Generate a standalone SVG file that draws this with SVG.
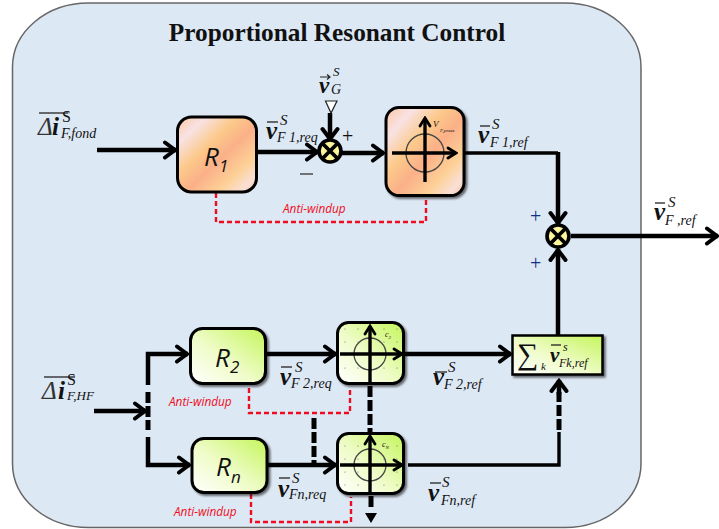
<svg xmlns="http://www.w3.org/2000/svg" width="719" height="529" viewBox="0 0 719 529">
<style>
.c{fill:none;stroke:#000;stroke-width:4.500}
.t{fill:none;stroke:#000;stroke-width:3.400}
.d{fill:none;stroke:#000;stroke-width:5;stroke-dasharray:11 3}
.r{fill:none;stroke:#f00c20;stroke-width:2.400;stroke-dasharray:5 3}
.box{stroke:#000;stroke-width:3}
.o{fill:url(#og)}
.g{fill:url(#gg)}
.ring{fill:none;stroke:#444;stroke-width:1.300}
text{font-family:"Liberation Serif",serif;fill:#111}
.v{font-size:25px;font-weight:bold;font-style:italic}
.i{font-size:25px;font-style:italic;fill:#333}
.sp{font-size:15px;font-style:italic}
.su{font-size:16px}
.sb{font-size:14px;font-style:italic}
.a{font-family:"Open Sans",sans-serif;font-size:11.800px;font-style:italic;fill:#f00c20}
.n{font-family:"Open Sans",sans-serif;font-size:26px;font-style:italic}
.ns{font-family:"Open Sans",sans-serif;font-size:17px;font-style:italic}
.bar{stroke:#222;stroke-width:1.300}
.p{font-size:20px;fill:#111}
.b{font-size:20px;fill:#103080}
</style>
<defs>
<linearGradient id="og" x1="0" y1="0" x2="1" y2="1">
<stop offset="0" stop-color="#fdc8a0"/><stop offset=".18" stop-color="#f8e2e4"/><stop offset=".38" stop-color="#fcc98a"/><stop offset=".55" stop-color="#fbb088"/><stop offset=".75" stop-color="#fdd096"/><stop offset=".9" stop-color="#f9e0d8"/><stop offset="1" stop-color="#fbb488"/>
</linearGradient>
<linearGradient id="gg" x1="0" y1="1" x2="1" y2="0">
<stop offset="0" stop-color="#fff"/><stop offset=".45" stop-color="#effcc8"/><stop offset="1" stop-color="#c4f55a"/>
</linearGradient>
<filter id="sh" x="-10%" y="-10%" width="125%" height="125%"><feDropShadow dx="2" dy="2" stdDeviation="1.200" flood-color="#000" flood-opacity=".55"/></filter>
<pattern id="dots" width="13" height="13" patternUnits="userSpaceOnUse" x="344" y="328"><circle cx="1" cy="1" r=".6" fill="#667"/></pattern>
<marker id="ar" viewBox="0 0 16 20" refX="14" refY="10" markerWidth="16" markerHeight="20" markerUnits="userSpaceOnUse" orient="auto"><path d="M3,2.500 L13,10 L3,17.500" fill="none" stroke="#000" stroke-width="4" stroke-linecap="round"/></marker>
<marker id="ats" viewBox="0 0 12 14" refX="10" refY="7" markerWidth="12" markerHeight="14" markerUnits="userSpaceOnUse" orient="auto"><path d="M2,2 L10,7 L2,12" fill="none" stroke="#000" stroke-width="2.800" stroke-linecap="round"/></marker>
<g id="sum"><circle r="11" fill="#fbf69a" stroke="#000" stroke-width="3.600"/><path d="M-8,-8 L8,8 M-8,8 L8,-8" stroke="#000" stroke-width="3.800"/></g>
</defs>

<rect id="panel" x="12.500" y="3" width="628.500" height="524.500" rx="76" ry="64" fill="#dde8f5" stroke="#666" stroke-width="1.500"/>
<text id="title" x="337" y="41" text-anchor="middle" font-size="25.300" font-weight="bold">Proportional Resonant Control</text>

<g id="connectors">
<path class="c" d="M97,150 H176" marker-end="url(#ar)"/>
<path class="c" d="M257,152 H318" marker-end="url(#ar)"/>
<path class="c" d="M330,113 V140" marker-end="url(#ar)"/>
<path class="c" d="M342,153 H384" marker-end="url(#ar)"/>
<path class="t" d="M465,153 H558"/>
<path class="c" d="M558,152 V224" marker-end="url(#ar)"/>
<path class="c" d="M571,236 H718" marker-end="url(#ar)"/>
<path class="c" d="M558,335 V249" marker-end="url(#ar)"/>
<path class="c" d="M94,411 H146" marker-end="url(#ar)"/>
<path class="c" d="M148,385 V354 H188" marker-end="url(#ar)"/>
<path class="c" d="M148,437 V465 H190" marker-end="url(#ar)"/>
<path class="d" d="M148,392 V430"/>
<path class="c" d="M266,354 H336" marker-end="url(#ar)"/>
<path class="c" d="M267,465 H336" marker-end="url(#ar)"/>
<path class="c" d="M405,354 H511" marker-end="url(#ar)"/>
<path class="t" d="M408,465 H559 V432"/>
<path class="d" d="M559,430 V392"/>
<path class="c" d="M559,395 V380" marker-end="url(#ar)"/>
<path class="d" d="M370,386 V432"/>
<path class="d" d="M314,418 V464"/>
<path class="d" d="M371,496 V510"/>
<polygon points="365,513 377,513 371,523" fill="#000"/>
<polygon points="325.500,101 337,101 331,113" fill="#fff" stroke="#222" stroke-width="1.200"/>
<path class="r" d="M216,193 V222 H426 V195"/>
<path class="r" d="M249,388 V413 H350 V387"/>
<path class="r" d="M251,494 V522 H351 V497"/>
</g>

<g id="sum1"><use href="#sum" x="330" y="151"/></g>
<g id="sum2"><use href="#sum" x="558" y="236"/></g>

<g id="r1"><rect class="box o" x="177.500" y="117" width="79" height="75" rx="14"/><text class="n" x="204" y="166">R</text><text class="ns" x="219" y="172">1</text></g>
<g id="lim1"><rect class="box o" x="386" y="107.500" width="78" height="88" rx="13" filter="url(#sh)"/>
<circle class="ring" cx="425" cy="153" r="19"/><path class="t" d="M392,153 H456" marker-end="url(#ats)"/><path class="t" d="M425,182 V118" marker-end="url(#ats)"/>
<text x="433" y="127" font-size="9" font-style="italic" fill="#444">V</text><text x="440" y="132" font-size="5" font-style="italic" fill="#a07040">F,pmax</text></g>
<g id="r2"><rect class="box g" x="190.500" y="328.500" width="75" height="55" rx="12" filter="url(#sh)"/><text class="n" x="215" y="367">R</text><text class="ns" x="230" y="373">2</text></g>
<g id="rn"><rect class="box g" x="192" y="438.500" width="75" height="54" rx="12" filter="url(#sh)"/><text class="n" x="216" y="476">R</text><text class="ns" x="231" y="483">n</text></g>
<g id="lim2"><rect class="box g" x="337.500" y="322.500" width="66" height="61" rx="11" filter="url(#sh)"/><rect x="342" y="326" width="57" height="54" fill="url(#dots)"/>
<circle class="ring" cx="370" cy="354" r="16"/><path class="t" d="M340,354 H402" marker-end="url(#ats)"/><path class="t" d="M370,384 V326" marker-end="url(#ats)"/>
<text x="385" y="337" font-size="8" font-style="italic" fill="#807020">c<tspan font-size="5" dy="2">2</tspan></text></g>
<g id="limn"><rect class="box g" x="337.500" y="433.500" width="66" height="60" rx="11" filter="url(#sh)"/><rect x="342" y="437" width="57" height="54" fill="url(#dots)"/>
<circle class="ring" cx="370" cy="465" r="16"/><path class="t" d="M340,465 H402" marker-end="url(#ats)"/><path class="t" d="M370,494 V436" marker-end="url(#ats)"/>
<text x="382" y="447" font-size="8" font-style="italic" fill="#807020">c<tspan font-size="5" dy="2">N</tspan></text></g>
<g id="sumbox"><rect x="512.500" y="335.500" width="90" height="39" fill="url(#gg)" stroke="#000" stroke-width="2.500" filter="url(#sh)"/>
<text x="517" y="364" style="font-size:30px">∑</text><text x="541" y="370" font-size="11" font-style="italic">k</text>
<path class="bar" d="M551,345 H561"/><text class="v" x="550" y="362" style="font-size:21px">v</text><text class="sp" x="563" y="351" style="font-size:12px">s</text><text class="sb" x="559" y="367" style="font-size:12px">Fk,ref</text></g>

<g id="labels">
<path class="bar" d="M39,113 H68"/><text class="i" x="38" y="135">Δ</text><text class="v" x="52" y="135">i</text><text class="su" x="62" y="122">S</text><text class="sb" x="61" y="138">F,fond</text>
<path class="bar" d="M267,122 H278"/><text class="v" x="266" y="139">v</text><text class="sp" x="280" y="125">S</text><text class="sb" x="277" y="142">F 1,req</text>
<path d="M320,77 H330 M327,74.500 L330,77 L327,79.500" fill="none" stroke="#222" stroke-width="1.200"/><text class="v" x="319" y="93" style="font-size:23px">v</text><text class="sp" x="333" y="76" style="font-size:13px">S</text><text class="sb" x="331" y="94">G</text>
<text class="p" x="342" y="143">+</text><path d="M300,174 H313" stroke="#333" stroke-width="1.300"/>
<text class="a" x="283" y="213">Anti-windup</text>
<path class="bar" d="M480,126 H490"/><text class="v" x="478" y="143">v</text><text class="sp" x="492" y="129">S</text><text class="sb" x="490" y="147">F 1,ref</text>
<text class="b" x="530" y="223">+</text><text class="b" x="530" y="270">+</text>
<path class="bar" d="M655,203 H665"/><text class="v" x="654" y="220">v</text><text class="sp" x="668" y="207">S</text><text class="sb" x="665" y="225">F ,ref</text>
<path class="bar" d="M44,377 H75"/><text class="i" x="42" y="399">Δ</text><text class="v" x="58" y="399">i</text><text class="su" x="67" y="385">S</text><text class="sb" x="67" y="400" style="font-size:13px">F,HF</text>
<path class="bar" d="M281,367 H292"/><text class="v" x="280" y="385">v</text><text class="sp" x="295" y="372">S</text><text class="sb" x="291" y="388">F 2,req</text>
<path class="bar" d="M279,478 H290"/><text class="v" x="278" y="497">v</text><text class="sp" x="292" y="483">S</text><text class="sb" x="289" y="499">Fn,req</text>
<text class="a" x="169" y="406">Anti-windup</text>
<text class="a" x="174" y="516">Anti-windup</text>
<path class="bar" d="M435,372 H447"/><text class="v" x="433" y="385">v</text><text class="sp" x="448" y="372">S</text><text class="sb" x="444" y="389">F 2,ref</text>
<path class="bar" d="M430,483 H441"/><text class="v" x="428" y="501">v</text><text class="sp" x="442" y="487">S</text><text class="sb" x="441" y="505">Fn,ref</text>
</g>
</svg>
